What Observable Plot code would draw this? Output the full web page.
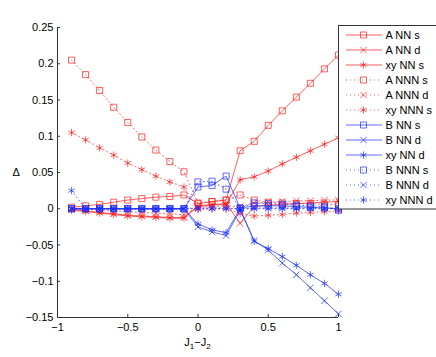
<!DOCTYPE html>
<html><head><meta charset="utf-8">
<script src="https://cdn.jsdelivr.net/npm/d3@7"></script>
<script src="https://cdn.jsdelivr.net/npm/@observablehq/plot@0.6"></script>
<style>
body{margin:0;background:#fff;}
#wrap{position:relative;width:436px;height:357px;overflow:hidden;font-family:"Liberation Sans",Arial,sans-serif;}
#wrap svg{position:absolute;left:0;top:0;}
</style></head><body><div id="wrap"></div>
<script>
// ---- data ----
const xs = [-0.9,-0.8,-0.7,-0.6,-0.5,-0.4,-0.3,-0.2,-0.1,0,0.1,0.2,0.3,0.4,0.5,0.6,0.7,0.8,0.9,1.0];
const A_NN_s   = [0.002,0.004,0.006,0.009,0.012,0.014,0.016,0.017,0.019, 0.007,0.010,0.012, 0.080,0.093,0.115,0.135,0.154,0.173,0.193,0.212];
const A_NN_d   = [-0.001,-0.003,-0.005,-0.007,-0.009,-0.010,-0.011,-0.012,-0.012, 0.004,0.006,0.007, -0.020,0.003,0.005,0.006,0.007,0.008,0.009,0.010];
const xy_NN_s  = [-0.002,-0.004,-0.006,-0.008,-0.010,-0.011,-0.012,-0.013,-0.013, 0.003,0.005,0.006, 0.040,0.044,0.052,0.062,0.071,0.080,0.089,0.098];
const A_NNN_s  = [0.205,0.185,0.163,0.140,0.119,0.099,0.081,0.065,0.051, 0.008,0.010,0.012, 0.019,0.012,0.009,0.008,0.007,0.007,0.006,0.006];
const A_NNN_d  = [0.000,-0.001,-0.002,-0.003,-0.004,-0.005,-0.006,-0.007,-0.008, 0.002,0.003,0.004, 0.003,0.008,0.009,0.010,0.011,0.011,0.012,0.012];
const xy_NNN_s = [0.105,0.095,0.084,0.074,0.063,0.054,0.045,0.037,0.030, -0.001,0.000,0.000, -0.007,-0.010,-0.009,-0.008,-0.006,-0.005,-0.004,-0.003];
const B_NN_s   = [0,0,0,0,0,0,0,0,0, 0.030,0.032,0.045, 0.001,0.004,0.004,0.004,0.003,0.002,0.001,0.000];
const B_NN_d   = [0,0,0,0,0,0,0,0,0, -0.025,-0.032,-0.037, -0.002,-0.044,-0.057,-0.075,-0.091,-0.109,-0.127,-0.145];
const xy_NN_d  = [0,0,0,0,0,0,0,0,0, -0.021,-0.029,-0.033, 0.000,-0.045,-0.055,-0.066,-0.078,-0.091,-0.103,-0.118];
const B_NNN_s  = [0,0,0,0,0,0,0,0,0, 0.037,0.038,0.027, 0.001,0.008,0.007,0.006,0.005,0.004,0.003,-0.002];
const B_NNN_d  = [0,0,0,0,0,0,0,0,0, 0.001,0.001,0.001, 0.000,0.001,0.001,0.001,0.001,0.001,0.001,0.001];
const xy_NNN_d = [0.025,0,0,0,0,0,0,0,0, 0.000,0.000,0.000, 0.000,0.000,0.000,0.000,0.000,0.000,0.000,0.000];
const seriesNames = ["A NN s","A NN d","xy NN s","A NNN s","A NNN d","xy NNN s","B NN s","B NN d","xy NN d","B NNN s","B NNN d","xy NNN d"];
const seriesValues = [A_NN_s,A_NN_d,xy_NN_s,A_NNN_s,A_NNN_d,xy_NNN_s,B_NN_s,B_NN_d,xy_NN_d,B_NNN_s,B_NNN_d,xy_NNN_d];
const xTicks = [-1,-0.5,0,0.5,1];
const yTicks = [-0.15,-0.1,-0.05,0,0.05,0.1,0.15,0.2,0.25];

// ---- styles ----
const RED = "#ff1a1a", BLUE = "#1a2cff";
const colors = [RED,RED,RED,RED,RED,RED,BLUE,BLUE,BLUE,BLUE,BLUE,BLUE];
const symbols = ["square","times","asterisk","square","times","asterisk","square","times","asterisk","square","times","asterisk"];
const dotted = [false,false,false,true,true,true,false,false,false,true,true,true];
const symR = {square:3.4, times:3, asterisk:3.4};
const DASH = "1,3";
const SW = 0.7;
const fmt = d => (d < 0 ? "−" : "") + String(Math.abs(+(+d).toFixed(2)));

const marks = [
  Plot.ruleX([-1], {stroke:"#333", strokeWidth:1}),
  Plot.ruleY([-0.15], {stroke:"#333", strokeWidth:1}),
  Plot.axisX({ticks:xTicks, tickFormat:fmt, tickSize:-3, tickPadding:9, label:null, stroke:"#333"}),
  Plot.axisY({ticks:yTicks, tickFormat:fmt, tickSize:-3, tickPadding:7, label:null, stroke:"#333"}),
  Plot.text(["Δ"], {frameAnchor:"left", dx:-45, fontSize:11, fill:"#000"})
];
seriesValues.forEach((vals, k) => {
  const data = xs.map((x,i) => ({x, y: vals[i]}));
  marks.push(Plot.line(data, {x:"x", y:"y", stroke:colors[k], strokeWidth:SW, strokeDasharray: dotted[k] ? DASH : null}));
  marks.push(Plot.dot(data, {x:"x", y:"y", symbol:symbols[k], r:symR[symbols[k]], stroke:colors[k], strokeWidth:SW, fill:"none"}));
});

const chart = Plot.plot({
  width:436, height:357,
  marginLeft:57, marginRight:98, marginTop:27, marginBottom:40,
  x:{domain:[-1,1]}, y:{domain:[-0.15,0.25]},
  style:{fontFamily:"'Liberation Sans', Arial, sans-serif", fontSize:"11px", color:"#000", background:"#fff"},
  marks
});
const wrap = document.getElementById("wrap");
wrap.appendChild(chart);

// ---- overlay: legend and x label ----
const svg = d3.select(wrap).append("svg").attr("width",436).attr("height",357)
  .style("font-family","'Liberation Sans', Arial, sans-serif").style("font-size","11px");
svg.append("rect").attr("x",338.5).attr("y",25.5).attr("width",110).attr("height",183.5)
  .attr("fill","#fff").attr("stroke","#333").attr("stroke-width",1);
const symMap = {square:d3.symbolSquare, times:d3.symbolTimes, asterisk:d3.symbolAsterisk};
seriesNames.forEach((name,k) => {
  const y = 35 + 15*k;
  const g = svg.append("g");
  g.append("line").attr("x1",346).attr("x2",382).attr("y1",y).attr("y2",y)
    .attr("stroke",colors[k]).attr("stroke-width",SW).attr("stroke-dasharray", dotted[k] ? DASH : null);
  const r = symR[symbols[k]];
  g.append("path").attr("transform",`translate(363.5,${y})`)
    .attr("d", d3.symbol(symMap[symbols[k]], r*r*Math.PI)())
    .attr("fill","none").attr("stroke",colors[k]).attr("stroke-width",SW);
  g.append("text").attr("x",385.5).attr("y",y+4).attr("fill","#000").text(name);
});
const xl = svg.append("text").attr("x",197.5).attr("y",346).attr("text-anchor","middle").attr("fill","#000");
xl.append("tspan").text("J");
xl.append("tspan").attr("dy",3).attr("font-size","8px").text("1");
xl.append("tspan").attr("dy",-3).text("−J");
xl.append("tspan").attr("dy",3).attr("font-size","8px").text("2");
</script>
</body></html>
